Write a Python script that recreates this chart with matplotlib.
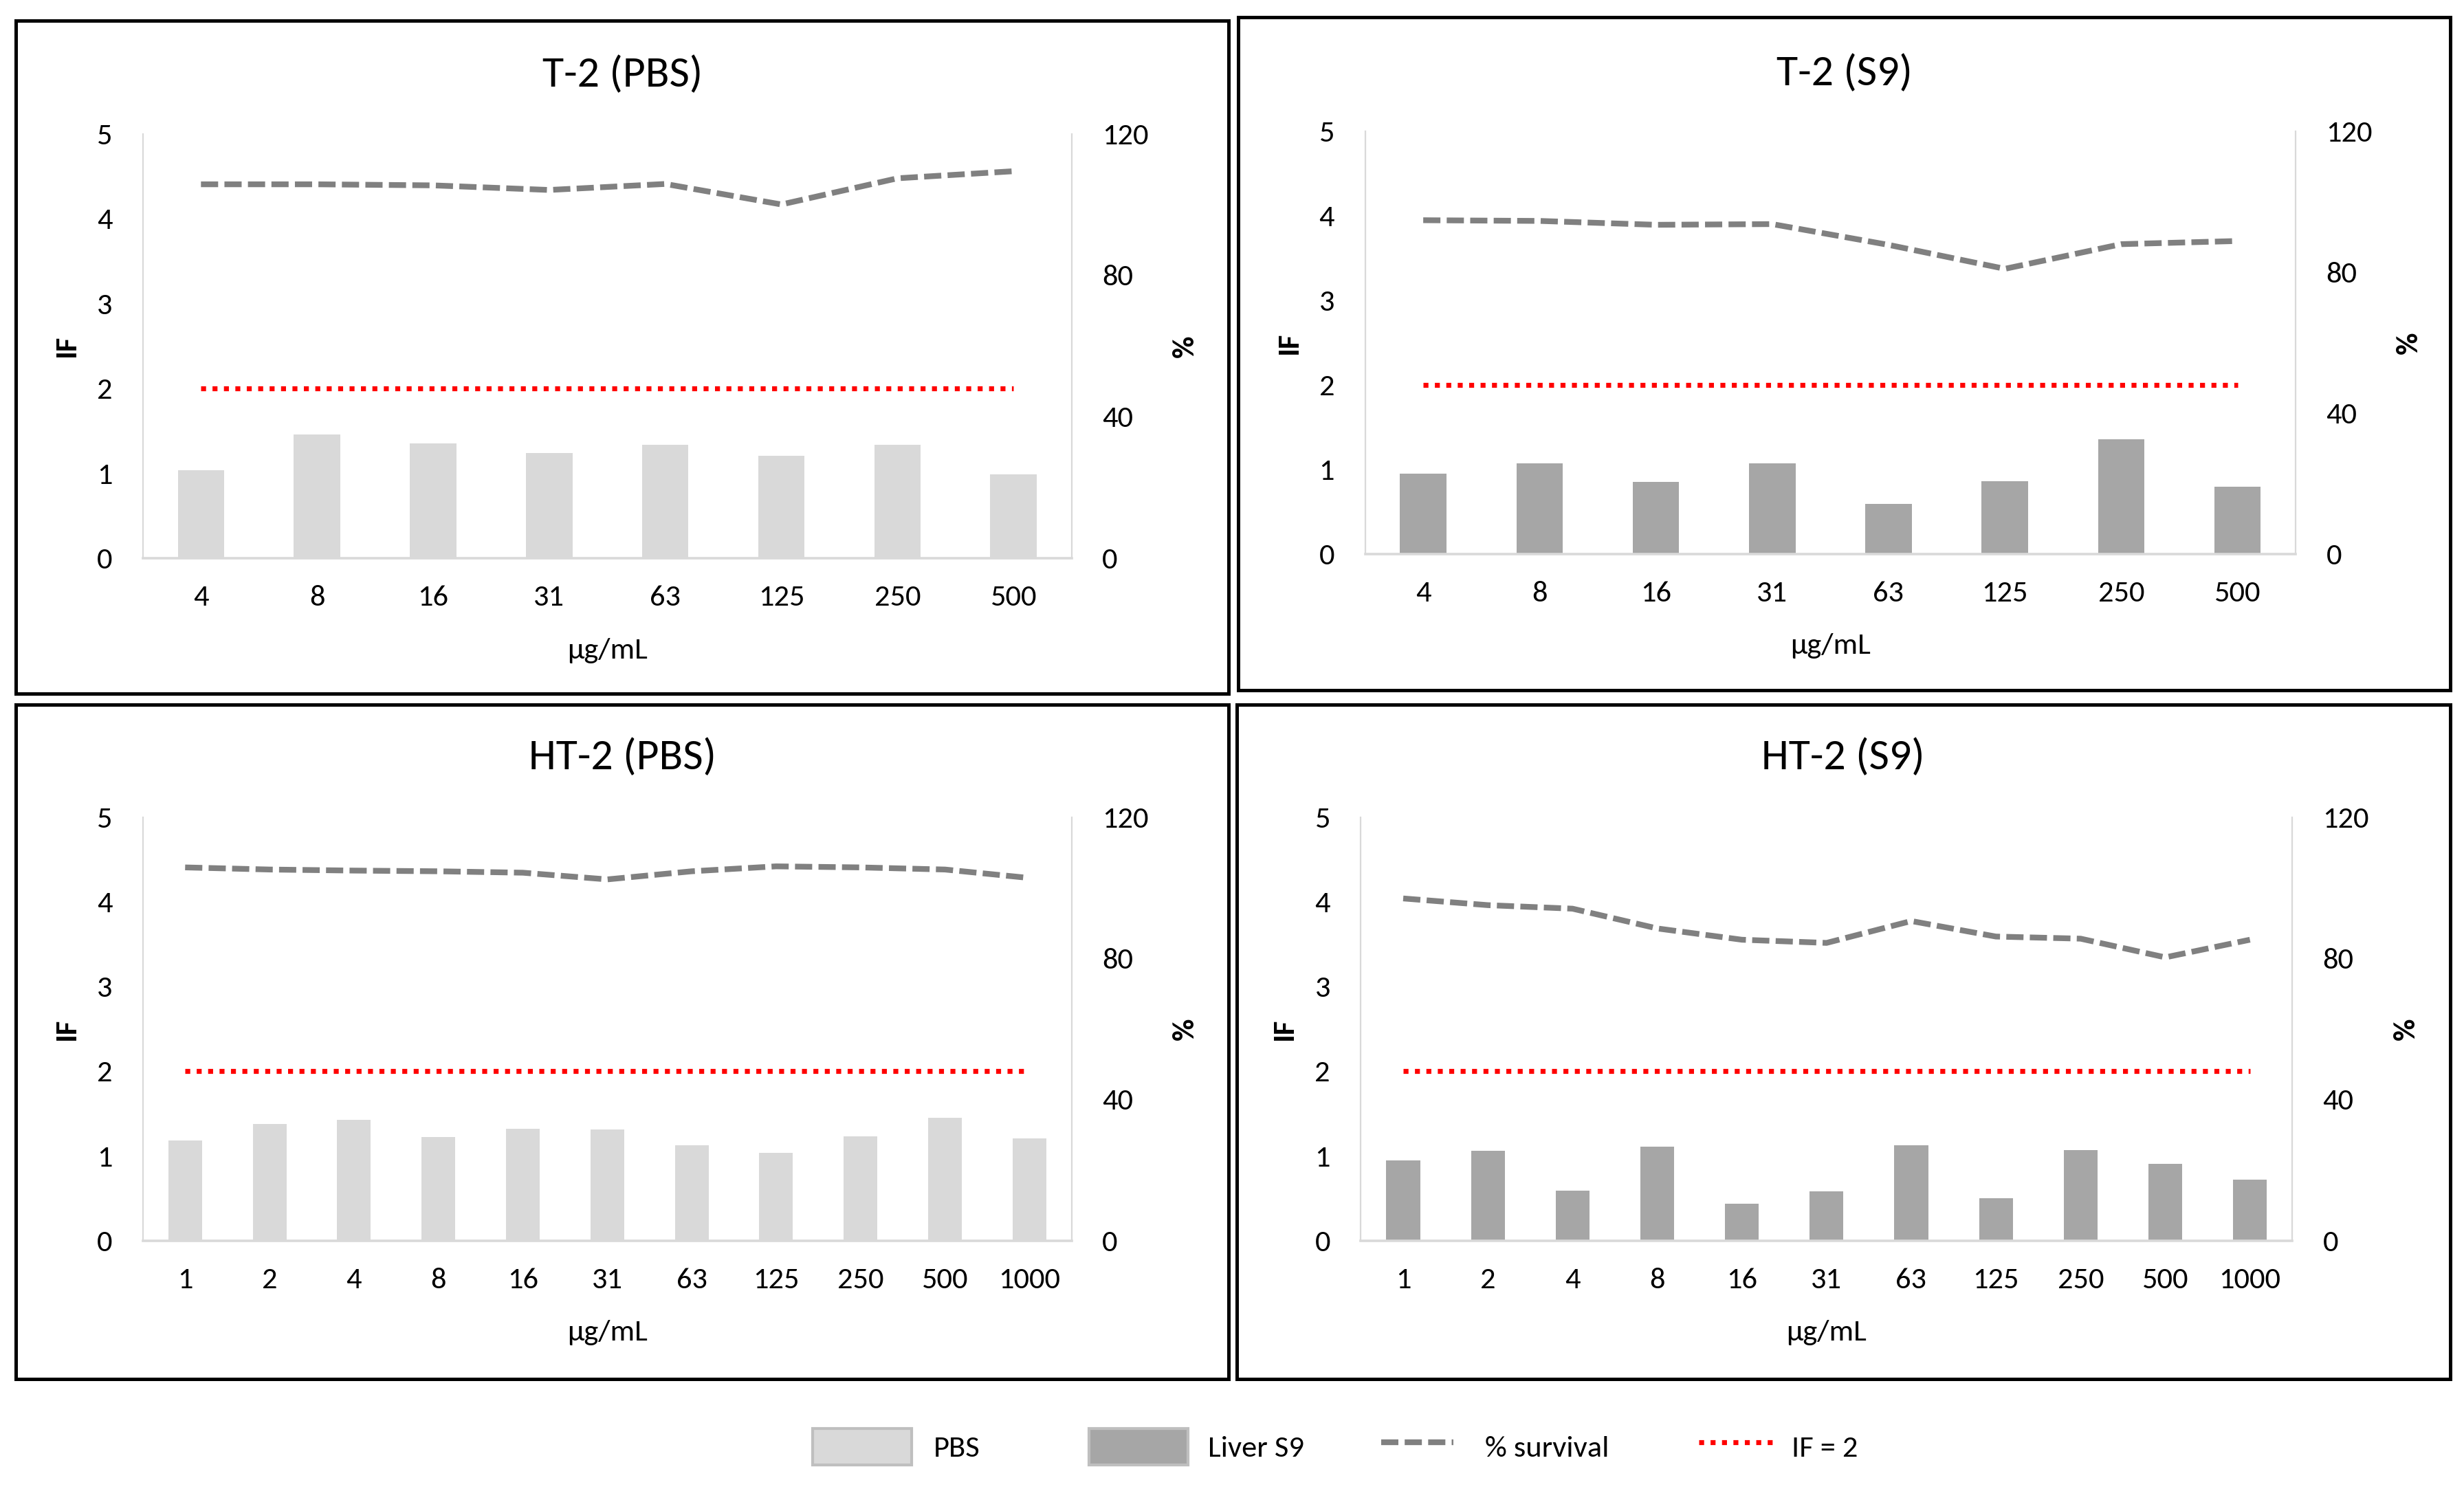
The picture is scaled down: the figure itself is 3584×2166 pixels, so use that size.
import matplotlib
matplotlib.use("Agg")
import matplotlib.pyplot as plt
from matplotlib import font_manager
from matplotlib.patches import Patch, Rectangle
from matplotlib.lines import Line2D
import numpy as np

# ---------------- data ----------------
t2_doses = ["4", "8", "16", "31", "63", "125", "250", "500"]
ht2_doses = ["1", "2", "4", "8", "16", "31", "63", "125", "250", "500", "1000"]

t2_pbs_if = [1.04, 1.46, 1.35, 1.24, 1.34, 1.21, 1.34, 0.99]
t2_pbs_surv = [105.7, 105.7, 105.4, 104.1, 105.8, 100.0, 107.4, 109.4]

t2_s9_if = [0.95, 1.07, 0.85, 1.07, 0.59, 0.86, 1.36, 0.80]
t2_s9_surv = [94.8, 94.6, 93.5, 93.7, 87.8, 81.0, 88.0, 88.9]

ht2_pbs_if = [1.18, 1.38, 1.43, 1.22, 1.32, 1.31, 1.13, 1.04, 1.23, 1.45, 1.21]
ht2_pbs_surv = [105.8, 105.2, 104.9, 104.7, 104.3, 102.4, 104.7, 106.1, 105.8, 105.2, 102.8]

ht2_s9_if = [0.95, 1.06, 0.59, 1.11, 0.44, 0.58, 1.13, 0.50, 1.07, 0.91, 0.72]
ht2_s9_surv = [97.0, 95.1, 94.1, 88.5, 85.3, 84.4, 90.6, 86.2, 85.6, 80.3, 85.3]

if_threshold = 2

titles = ["T-2 (PBS)", "T-2 (S9)", "HT-2 (PBS)", "HT-2 (S9)"]
legend_labels = ["PBS", "Liver S9", "% survival", "IF = 2"]

# ---------------- style ----------------
available = {f.name for f in font_manager.fontManager.ttflist}
family = "DejaVu Sans"
for cand in ["Carlito", "Lato", "Open Sans"]:
    if cand in available:
        family = cand
        break
plt.rcParams["font.family"] = [family, "DejaVu Sans"]

PBS_C = "#d9d9d9"
S9_C = "#a6a6a6"
SURV_C = "#808080"
RED = "#ff0000"
AXIS_C = "#d9d9d9"

TICK_FS = 16
TITLE_FS = 23

fig = plt.figure(figsize=(17.92, 10.83), dpi=200)

panels = [
    (t2_doses, t2_pbs_if, t2_pbs_surv, PBS_C),
    (t2_doses, t2_s9_if, t2_s9_surv, S9_C),
    (ht2_doses, ht2_pbs_if, ht2_pbs_surv, PBS_C),
    (ht2_doses, ht2_s9_if, ht2_s9_surv, S9_C),
]

ax_rects = [
    [0.0580, 0.6251, 0.3769, 0.2851],
    [0.5540, 0.6279, 0.3777, 0.2838],
    [0.0580, 0.1668, 0.3769, 0.2843],
    [0.5523, 0.1668, 0.3780, 0.2843],
]
boxes = [
    (0.0064, 0.5343, 0.4923, 0.4520),
    (0.5026, 0.5364, 0.4917, 0.4520),
    (0.0064, 0.0739, 0.4923, 0.4530),
    (0.5019, 0.0739, 0.4924, 0.4530),
]
title_y = [0.950, 0.951, 0.4915, 0.4915]

for i, (doses, vals, surv, col) in enumerate(panels):
    bx, by, bw, bh = boxes[i]
    fig.patches.append(Rectangle((bx, by), bw, bh, transform=fig.transFigure,
                                 fill=False, edgecolor="black", linewidth=1.8))
    fig.text(bx + bw / 2, title_y[i], titles[i], ha="center", va="center",
             fontsize=TITLE_FS)

    ax = fig.add_axes(ax_rects[i])
    x = np.arange(len(doses))
    ax.bar(x, vals, width=0.4, color=col, zorder=2)
    ax.plot(x, [if_threshold] * len(x), color=RED, linestyle=(0, (1, 1.3)),
            linewidth=2.6, zorder=3)
    ax.set_xlim(-0.5, len(doses) - 0.5)
    ax.set_ylim(0, 5)
    ax.set_yticks(range(0, 6))
    ax.set_xticks(x)
    ax.set_xticklabels(doses)
    ax.tick_params(axis="both", length=0, labelsize=TICK_FS)
    ax.tick_params(axis="y", pad=16)
    ax.tick_params(axis="x", pad=14)
    for s in ["top", "right"]:
        ax.spines[s].set_visible(False)
    ax.spines["left"].set_color(AXIS_C)
    ax.spines["left"].set_linewidth(0.8)
    ax.spines["bottom"].set_color(AXIS_C)
    ax.spines["bottom"].set_linewidth(1.3)
    ax.set_facecolor("none")

    ax2 = ax.twinx()
    ax2.plot(x, surv, color=SURV_C, linestyle=(0, (3, 1.1)), linewidth=3.0,
             zorder=4)
    ax2.set_ylim(0, 120)
    ax2.set_yticks([0, 40, 80, 120])
    ax2.tick_params(axis="y", length=0, labelsize=TICK_FS, pad=16)
    for s in ["top", "left", "bottom"]:
        ax2.spines[s].set_visible(False)
    ax2.spines["right"].set_color(AXIS_C)
    ax2.spines["right"].set_linewidth(0.8)

    ax.text(-0.082, 0.5, "IF", transform=ax.transAxes, rotation=90,
            ha="center", va="center", fontsize=TICK_FS, fontweight="bold")
    ax.text(1.122, 0.5, "%", transform=ax.transAxes, rotation=90,
            ha="center", va="center", fontsize=TICK_FS, fontweight="bold")
    ax.text(0.5, -0.218, "µg/mL", transform=ax.transAxes,
            ha="center", va="center", fontsize=TICK_FS)

# legend: one entry per legend box so each can keep its own handle size
handles = [
    Patch(facecolor=PBS_C, edgecolor="#bfbfbf", linewidth=1.5),
    Patch(facecolor=S9_C, edgecolor="#bfbfbf", linewidth=1.5),
    Line2D([], [], color=SURV_C, linestyle=(0, (3, 1.1)), linewidth=3.0),
    Line2D([], [], color=RED, linestyle=(0, (1, 1.3)), linewidth=2.6),
]
leg_x = [0.3297, 0.4420, 0.5606, 0.6894]
leg_hl = [3.24, 3.24, 2.36, 2.5]
leg_pad = [0.72, 0.65, 1.03, 0.55]
for h, lab, lx, hl, tp in zip(handles, legend_labels, leg_x, leg_hl, leg_pad):
    lg = fig.legend([h], [lab], loc="center left", bbox_to_anchor=(lx, 0.0285),
                    frameon=False, fontsize=TICK_FS, handlelength=hl,
                    handleheight=1.45, handletextpad=tp, borderpad=0,
                    borderaxespad=0)

fig.savefig("out.png", dpi=200, facecolor="white")
